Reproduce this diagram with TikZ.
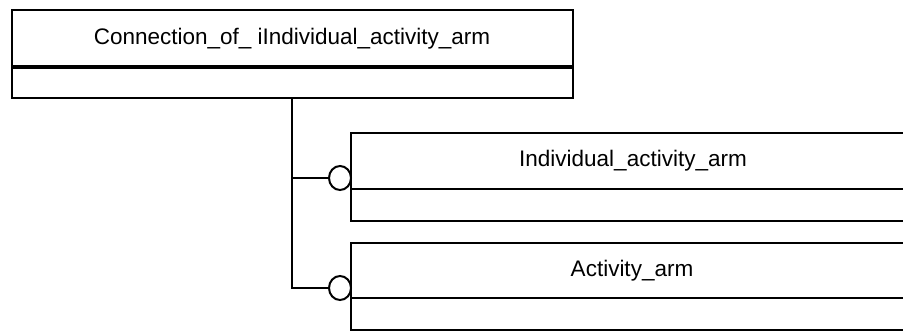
\documentclass[tikz,border=0pt]{standalone}
\usepackage{fontspec}
\usetikzlibrary{shapes.geometric}
\setmainfont{Liberation Sans}
\begin{document}
\begin{tikzpicture}[x=1pt,y=-1pt,
  ln/.style={line width=2pt,black},
  lbl/.style={font=\fontsize{22.5}{26}\selectfont,inner sep=0pt,anchor=base},
  ring/.style={ellipse,draw,line width=2pt,minimum width=22pt,minimum height=24pt,inner sep=0pt,fill=white}]
\useasboundingbox (0,0) rectangle (903,331);
\clip (0,0) rectangle (903,331);
% top entity
\draw[ln] (12,10) rectangle (573,98);
\draw[line width=3.5pt] (12,67) -- (573,67);
\node[lbl] (t1) at (292,45) {Connection\_of\_ iIndividual\_activity\_arm};
\coordinate (tb) at (292,98);
% entity 2
\draw[ln] (915,133) -- (351,133) -- (351,221) -- (915,221);
\draw[ln] (351,189) -- (915,189);
\node[lbl] (t2) at (633,167) {Individual\_activity\_arm};
% entity 3
\draw[ln] (915,243) -- (351,243) -- (351,330) -- (915,330);
\draw[ln] (351,298) -- (915,298);
\node[lbl] (t3) at (632,277) {Activity\_arm};
% connectors
\node[ring] (c1) at (340,178) {};
\node[ring] (c2) at (340,288) {};
\coordinate (j1) at (292,178);
\coordinate (j2) at (292,288);
\draw[ln] (tb) -- (j2) -- (c2.west);
\draw[ln] (j1) -- (c1.west);
\end{tikzpicture}
\end{document}
